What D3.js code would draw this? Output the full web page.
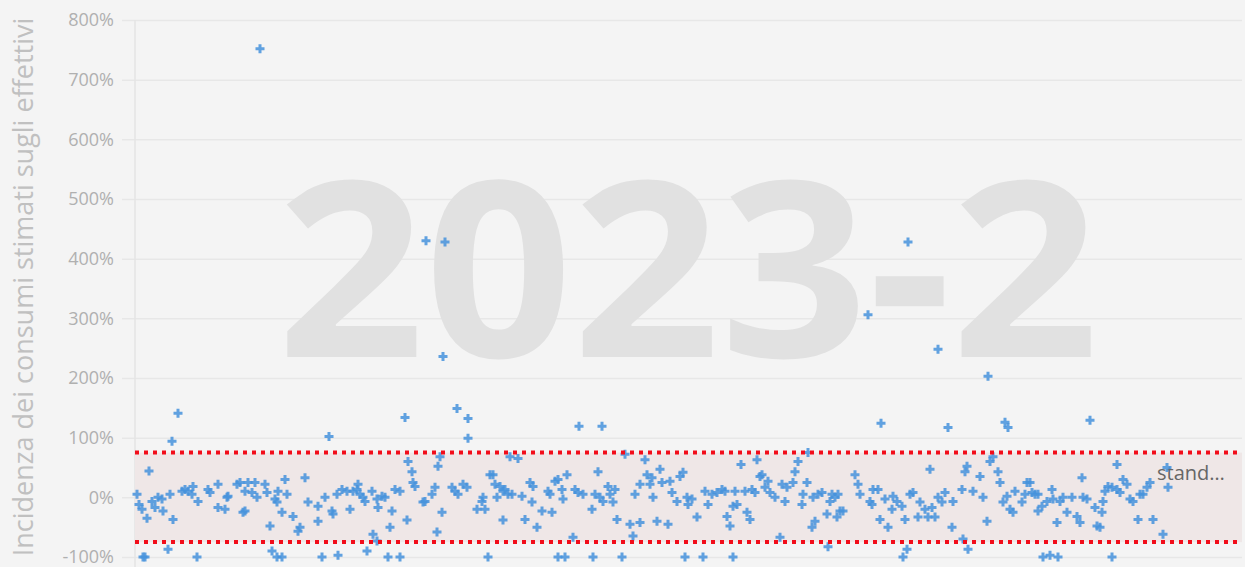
<!DOCTYPE html>
<html>
<head>
<meta charset="utf-8">
<script src="https://cdn.jsdelivr.net/npm/d3@7"></script>
<style>
  html, body { margin: 0; padding: 0; background: #f4f4f4; overflow: hidden; }
  svg { display: block; }
</style>
</head>
<body>
<svg id="chart" width="1245" height="567"></svg>
<script>
// Posizione progressiva del punto lungo l'asse orizzontale
const progressivo = [
  2,4,7,8,10,12,14,17,20,23,27,28,33,35,37,38,43,47,50,53,57,58,62,63,73,75,83,83,90,92,93,
  102,105,108,110,110,113,117,120,122,125,130,132,135,137,140,142,142,143,147,147,150,152,158,163,165,170,173,
  183,183,187,190,194,197,198,202,203,207,212,215,218,222,223,225,228,230,232,237,238,242,242,243,247,250,253,255,257,
  260,265,265,270,272,273,277,278,280,288,290,291,297,300,302,303,305,307,308,310,317,320,322,323,328,332,333,333,342,347,
  348,350,353,355,358,360,362,365,368,368,370,373,375,377,383,387,390,395,397,398,402,407,413,415,417,420,423,423,427,428,
  430,432,438,440,443,444,448,457,458,460,463,465,467,468,473,475,478,480,482,487,490,495,498,500,505,505,510,512,515,517,518,522,
  525,527,533,535,537,542,545,548,550,552,553,557,562,568,570,573,577,582,587,590,592,595,598,598,600,602,606,610,612,615,617,
  620,622,625,627,630,633,635,640,645,647,650,652,658,660,663,667,668,672,673,677,678,680,683,687,692,693,695,
  697,700,702,703,705,708,720,723,725,733,735,737,738,743,745,746,750,753,757,758,762,767,768,770,772,773,775,778,783,785,
  790,793,795,797,800,803,803,807,810,813,817,818,827,828,830,832,833,838,845,848,852,853,855,858,863,865,868,870,872,873,
  875,878,880,887,890,892,895,897,900,903,903,907,908,912,915,917,918,922,923,925,928,932,937,942,945,947,948,952,955,
  960,962,965,967,968,970,973,977,977,982,982,985,988,992,995,998,1003,1005,1008,1012,1015,1018,1028,1032,1033
];

// Incidenza dei consumi stimati sugli effettivi (%)
const incidenza = [
  5,-12,-20,-100,-100,-35,44,-7,-17,0,-3,-23,-87,5,94,-37,141,10,13,10,5,18,-100,-7,13,8,22,-17,-20,0,2,
  22,25,-25,10,-23,25,8,25,0,752,22,8,-48,-90,-3,-8,-100,10,-25,-100,30,5,-32,-57,-50,33,-8,
  -15,-40,-100,0,102,-23,-28,5,-97,13,10,-20,10,13,22,5,0,-7,-90,10,-62,-3,-73,-17,2,0,-100,-50,-23,
  13,10,-100,134,-38,60,43,25,18,-8,-7,430,5,17,-58,52,68,-25,236,428,17,10,149,5,22,17,132,99,-20,-7,
  0,-20,-100,38,38,22,0,18,10,-38,13,5,68,5,65,2,-37,25,-8,18,-50,-23,10,5,-25,27,30,-100,13,-3,
  -100,38,-67,13,8,119,5,-20,-100,5,43,0,119,-7,18,5,-8,13,-37,-100,72,-45,-65,5,22,-42,63,38,22,33,0,-40,
  47,25,-45,27,8,-7,35,42,-100,0,-12,-3,-33,-100,10,-12,5,8,13,10,-32,-48,-15,-100,10,-12,55,10,-25,-37,13,
  8,63,35,38,17,27,8,0,-67,22,-7,17,25,43,60,-12,5,25,75,-50,0,-40,5,8,-28,-83,-7,
  5,0,-33,5,-23,-23,38,22,5,306,-7,-12,13,13,-37,124,-3,-50,-20,2,-7,-15,-100,-37,-87,428,5,8,-33,-8,
  -20,-33,47,-17,-33,0,248,-8,8,117,-50,-7,13,-70,43,52,-87,10,35,0,-40,203,60,68,43,25,-8,126,2,117,
  -20,-25,10,-8,5,25,25,8,5,5,-23,-15,-100,-7,-97,13,-3,-42,-100,-7,0,-25,0,-32,-42,33,0,-3,129,
  -17,-48,-50,-25,-7,10,18,17,-100,13,55,8,30,22,-3,-7,-37,5,5,17,25,-37,-62,50,17
];

// Tacche dell'asse verticale e soglie della fascia di riferimento
const tickY = [-100, 0, 100, 200, 300, 400, 500, 600, 700, 800];
const soglie = [-75, 75];
const etichettaFascia = "stand\u2026";
const filigrana = "2023-2";
const titoloY = "Incidenza dei consumi stimati sugli effettivi";

const punti = progressivo.map((p, i) => ({ p, v: incidenza[i] }));

const svg = d3.select("#chart");
const plotLeft = 135, plotRight = 1242, plotTop = 20, plotBottom = 557;

const x = d3.scaleLinear().domain([0, 1107]).range([plotLeft, plotRight]);
const y = d3.scaleLinear().domain([-100, 800]).range([plotBottom, plotTop]);

// Sfondo
svg.append("rect").attr("width", 1245).attr("height", 567).attr("fill", "#f4f4f4");

// Griglia e etichette asse Y
const yAxis = d3.axisLeft(y)
  .tickValues(tickY)
  .tickSize(0)
  .tickPadding(8)
  .tickFormat(d => d + "%");

const gy = svg.append("g")
  .attr("transform", `translate(${plotLeft - 13},0)`)
  .call(yAxis);
gy.select(".domain").remove();
gy.selectAll(".tick line")
  .attr("x1", 0).attr("x2", plotRight - plotLeft + 13)
  .attr("stroke", "#e7e7e7").attr("stroke-width", 1.5);
gy.selectAll(".tick text")
  .attr("fill", "#b0b0b0")
  .attr("font-family", "'Open Sans', sans-serif")
  .attr("font-size", 18);

// Asse verticale
svg.append("line")
  .attr("x1", plotLeft).attr("x2", plotLeft)
  .attr("y1", plotTop).attr("y2", 567)
  .attr("stroke", "#e4e4e4").attr("stroke-width", 1.5);

// Filigrana
svg.append("text")
  .attr("transform", "translate(688,357) scale(1.055,1)")
  .attr("text-anchor", "middle")
  .attr("font-family", "'Open Sans', sans-serif")
  .attr("font-weight", 700)
  .attr("font-size", 245)
  .attr("fill", "#e1e1e1")
  .text(filigrana);

// Fascia di riferimento
svg.append("rect")
  .attr("x", plotLeft).attr("width", plotRight - plotLeft)
  .attr("y", y(soglie[1])).attr("height", y(soglie[0]) - y(soglie[1]))
  .attr("fill", "#efe7e7");

svg.append("text")
  .attr("x", 1157).attr("y", 480)
  .attr("font-family", "'Open Sans', sans-serif")
  .attr("font-size", 20)
  .attr("fill", "#666666")
  .text(etichettaFascia);

// Punti
const croce = d3.symbol().type(d3.symbolCross).size(45);
svg.append("g")
  .selectAll("path")
  .data(punti)
  .join("path")
  .attr("transform", d => `translate(${x(d.p)},${y(d.v)})`)
  .attr("d", croce)
  .attr("fill", "#4592dc")
  .attr("fill-opacity", 0.85);

// Soglie tratteggiate
svg.append("g")
  .selectAll("line")
  .data(soglie)
  .join("line")
  .attr("x1", plotLeft).attr("x2", plotRight)
  .attr("y1", d => y(d)).attr("y2", d => y(d))
  .attr("stroke", "#f20d1a")
  .attr("stroke-width", 4)
  .attr("stroke-dasharray", "4 5");

// Titolo asse Y
svg.append("text")
  .attr("transform", "translate(33,287) rotate(-90)")
  .attr("text-anchor", "middle")
  .attr("font-family", "'Open Sans', sans-serif")
  .attr("font-size", 27)
  .attr("fill", "#c0c0c0")
  .text(titoloY);
</script>
</body>
</html>
